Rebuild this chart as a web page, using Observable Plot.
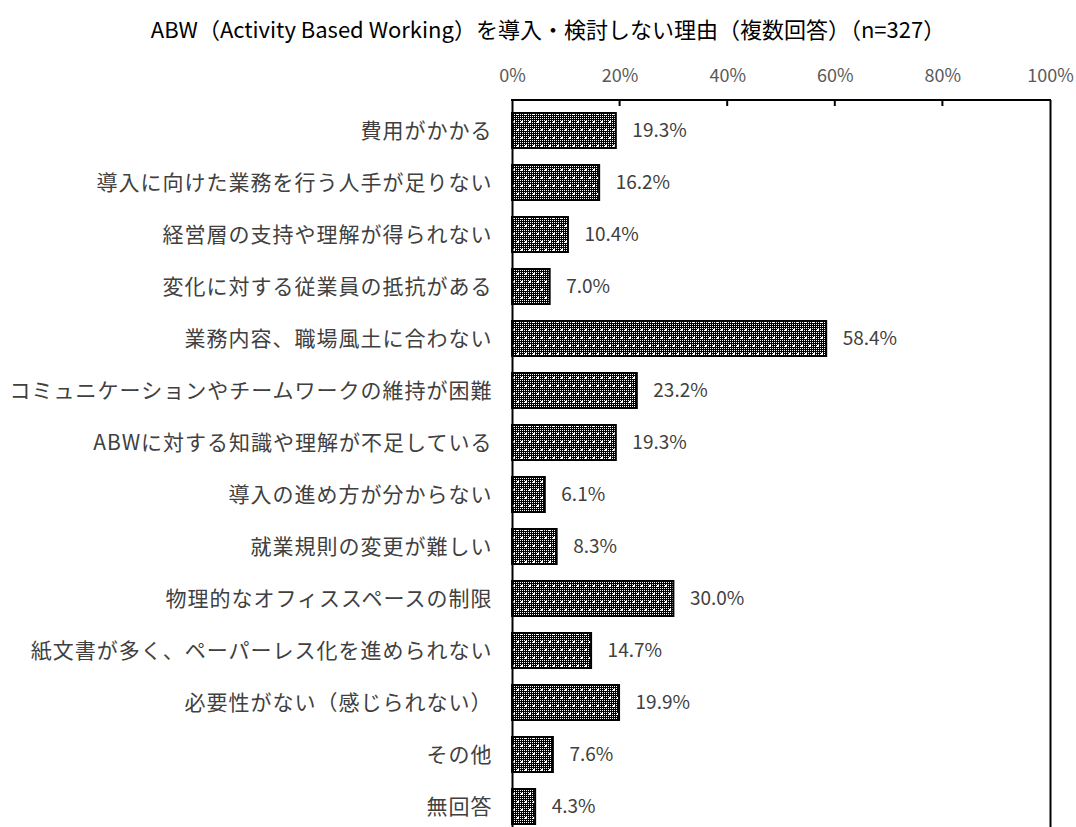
<!DOCTYPE html>
<html><head><meta charset="utf-8">
<script src="https://cdn.jsdelivr.net/npm/d3@7"></script>
<script src="https://cdn.jsdelivr.net/npm/@observablehq/plot@0.6"></script>
<style>
body{margin:0;background:#fff;overflow:hidden;font-family:"Noto Sans CJK JP",sans-serif;}
#title{box-sizing:border-box;height:40px;padding-top:16px;padding-left:20px;line-height:24px;text-align:center;font-size:22px;color:#000;white-space:nowrap;}
#chart svg{display:block;overflow:visible;}
#chart g[aria-label="y-axis tick label"] text{letter-spacing:1px;}
</style></head><body>
<div id="title">ABW（Activity Based Working）を導入・検討しない理由（複数回答）（n=327）</div>
<div id="chart"></div>
<script>
const categories = [
  "費用がかかる",
  "導入に向けた業務を行う人手が足りない",
  "経営層の支持や理解が得られない",
  "変化に対する従業員の抵抗がある",
  "業務内容、職場風土に合わない",
  "コミュニケーションやチームワークの維持が困難",
  "ABWに対する知識や理解が不足している",
  "導入の進め方が分からない",
  "就業規則の変更が難しい",
  "物理的なオフィススペースの制限",
  "紙文書が多く、ペーパーレス化を進められない",
  "必要性がない（感じられない）",
  "その他",
  "無回答"
];
const values = [19.3, 16.2, 10.4, 7.0, 58.4, 23.2, 19.3, 6.1, 8.3, 30.0, 14.7, 19.9, 7.6, 4.3];
const xTicks = [0, 20, 40, 60, 80, 100];

const data = categories.map((c, i) => ({category: c, value: values[i]}));

const frameMark = (index, scales, vals, dims) => {
  const x = scales.x;
  const g = d3.create("svg:g").attr("stroke", "black").attr("stroke-width", 2).attr("fill", "none");
  g.append("line").attr("x1", x(0) - 1).attr("x2", x(100) + 1)
    .attr("y1", dims.marginTop).attr("y2", dims.marginTop);
  for (const t of xTicks.slice(1, -1)) {
    g.append("line").attr("x1", x(t)).attr("x2", x(t))
      .attr("y1", dims.marginTop).attr("y2", dims.marginTop + 6);
  }
  return g.node();
};

const plot = Plot.plot({
  width: 1076,
  height: 796,
  marginTop: 60,
  marginBottom: 0,
  marginLeft: 512,
  marginRight: 26,
  style: {fontFamily: "'Noto Sans CJK JP', sans-serif", fontSize: "21px", background: "white", overflow: "visible"},
  x: {domain: [0, 100]},
  y: {domain: categories, paddingInner: 0.33, paddingOuter: 0.17},
  marks: [
    Plot.barX(data, {y: "category", x: "value", fill: "url(#abw-pat)", stroke: "black", strokeWidth: 2}),
    Plot.text(data, {y: "category", x: "value", text: d => d.value.toFixed(1) + "%", textAnchor: "start", dx: 16, fontSize: 19, fill: "#404040"}),
    Plot.axisY({tickSize: 0, tickPadding: 20, fontSize: 21, fill: "#404040", label: null}),
    Plot.axisX({anchor: "top", ticks: xTicks, tickFormat: d => d + "%", tickSize: 0, tickPadding: 19, fontSize: 18, fill: "#595959", label: null}),
    Plot.ruleX([0, 100], {stroke: "black", strokeWidth: 2}),
    frameMark
  ]
});

const svg = d3.select(plot);
const pat = svg.insert("defs", ":first-child").append("pattern")
  .attr("id", "abw-pat").attr("patternUnits", "userSpaceOnUse")
  .attr("width", 8).attr("height", 16);
pat.append("rect").attr("width", 8).attr("height", 16).attr("fill", "black");
let p = "";
for (let yy = 0; yy < 16; yy++) for (let xx = 0; xx < 8; xx++) if (xx % 2 === 0 && yy % 2 === 0) p += `M${xx},${yy}h1v1h-1z`;
pat.append("path").attr("d", p).attr("fill", "white");
pat.append("rect").attr("x", 1).attr("y", 1).attr("width", 2).attr("height", 2).attr("fill", "white");
pat.append("rect").attr("x", 5).attr("y", 9).attr("width", 2).attr("height", 2).attr("fill", "white");

document.getElementById("chart").appendChild(plot);
</script>
</body></html>
